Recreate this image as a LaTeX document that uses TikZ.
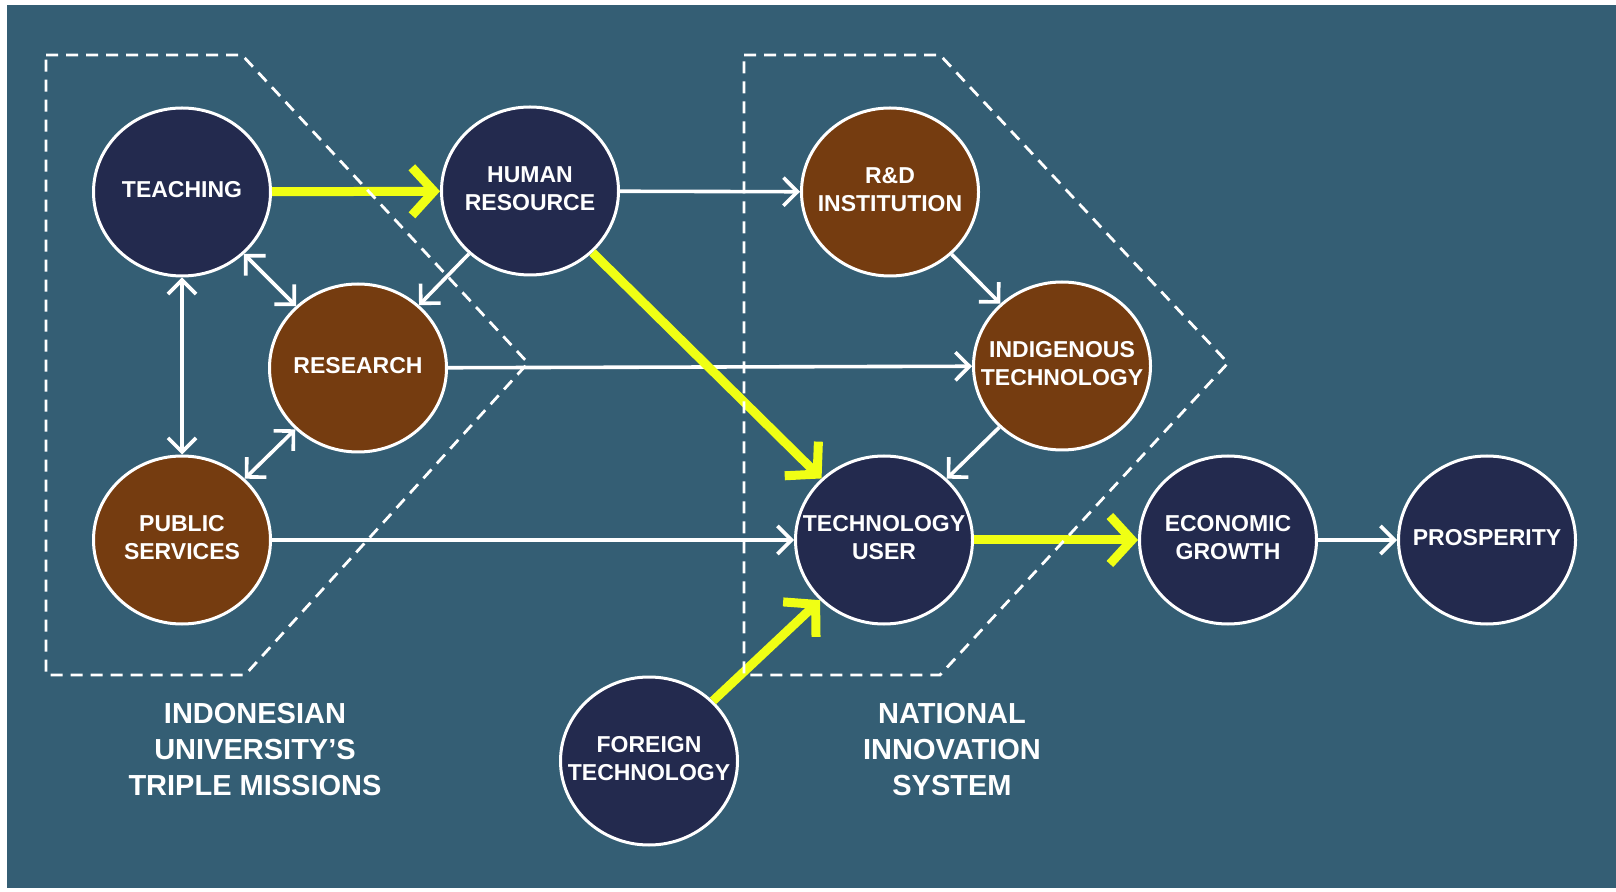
\documentclass[tikz,border=0pt]{standalone}
\usepackage{fontspec}
\setmainfont{Liberation Sans}
\usetikzlibrary{arrows.meta,shapes.geometric}

\definecolor{bgteal}{RGB}{52,94,116}
\definecolor{navyfill}{RGB}{35,42,78}
\definecolor{brownfill}{RGB}{117,60,16}
\definecolor{yellowarrow}{RGB}{240,255,20}

% text of a bubble, kept out of the bubble's size
\newcommand{\bubtxt}[1]{\makebox[0pt]{\begin{tabular}{@{}c@{}}#1\end{tabular}}}

\tikzset{
    bubble/.style={ellipse, draw=white, line width=1.5pt, minimum width=88.5pt, minimum height=84pt,
        inner sep=0pt, text=white, font=\fontsize{11.5}{14}\selectfont\bfseries},
    darkbubble/.style={bubble, fill=navyfill},
    brownbubble/.style={bubble, fill=brownfill},
    thinarrow/.style={draw=white, line width=1.8pt, -{Straight Barb[length=7pt,width=14pt]}},
    thinboth/.style={draw=white, line width=1.8pt, {Straight Barb[length=7pt,width=14pt]}-{Straight Barb[length=7pt,width=14pt]}},
    thickarrow/.style={draw=yellowarrow, line width=4.5pt, -{Straight Barb[length=11pt,width=24pt]}},
    missionbox/.style={draw=white, line width=1.4pt, dash pattern=on 6pt off 4pt},
    boxlabel/.style={text=white, align=center, font=\fontsize{14.5}{18}\selectfont\bfseries}
}

\begin{document}
\begin{tikzpicture}[x=0.5pt, y=-0.5pt]
            \useasboundingbox (0,0) rectangle (1616,892);
            \fill[white] (0,0) rectangle (1616,892);
            \fill[bgteal] (7,5) rectangle (1616,888);

            \node[darkbubble] (teaching) at (182,192) {\bubtxt{TEACHING}};
            \node[darkbubble] (human) at (530,191) {\bubtxt{HUMAN\\RESOURCE}};
            \node[brownbubble] (research) at (358,368) {\bubtxt{RESEARCH}};
            \node[brownbubble] (public) at (182,540) {\bubtxt{PUBLIC\\SERVICES}};
            \node[brownbubble] (rnd) at (890,192) {\bubtxt{R\&D\\INSTITUTION}};
            \node[brownbubble] (indigenous) at (1062,366) {\bubtxt{INDIGENOUS\\TECHNOLOGY}};
            \node[darkbubble] (user) at (884,540) {\bubtxt{TECHNOLOGY\\USER}};
            \node[darkbubble] (growth) at (1228,540) {\bubtxt{ECONOMIC\\GROWTH}};
            \node[darkbubble] (prosperity) at (1487,540) {\bubtxt{PROSPERITY}};
            \node[darkbubble] (foreign) at (649,761) {\bubtxt{FOREIGN\\TECHNOLOGY}};

            \draw[thinarrow] (human) -- (rnd);
            \draw[thinarrow] (human) -- (research);
            \draw[thinboth] (teaching) -- (research);
            \draw[thinboth] (teaching) -- (public);
            \draw[thinboth] (public) -- (research);
            \draw[thinarrow] (research) -- (indigenous);
            \draw[thinarrow] (rnd) -- (indigenous);
            \draw[thinarrow] (indigenous) -- (user);
            \draw[thinarrow] (public) -- (user);
            \draw[thinarrow] (growth) -- (prosperity);

            \draw[thickarrow] (teaching) -- (human);
            \draw[thickarrow] (human) -- (user);
            \draw[thickarrow] (user) -- (growth);
            \draw[thickarrow] (foreign) -- (user);

            % dashed outlines
            \draw[missionbox] (46,55) -- (242,55) -- (528,363) -- (245,675) -- (46,675) -- cycle;
            \draw[missionbox] (744,55) -- (940,55) -- (1228,363) -- (940,675) -- (744,675) -- cycle;

            \node[boxlabel] (university) at (255,750) {INDONESIAN\\UNIVERSITY'S\\TRIPLE MISSIONS};
            \node[boxlabel] (nis) at (952,750) {NATIONAL\\INNOVATION\\SYSTEM};
        
        \end{tikzpicture}
\end{document}
